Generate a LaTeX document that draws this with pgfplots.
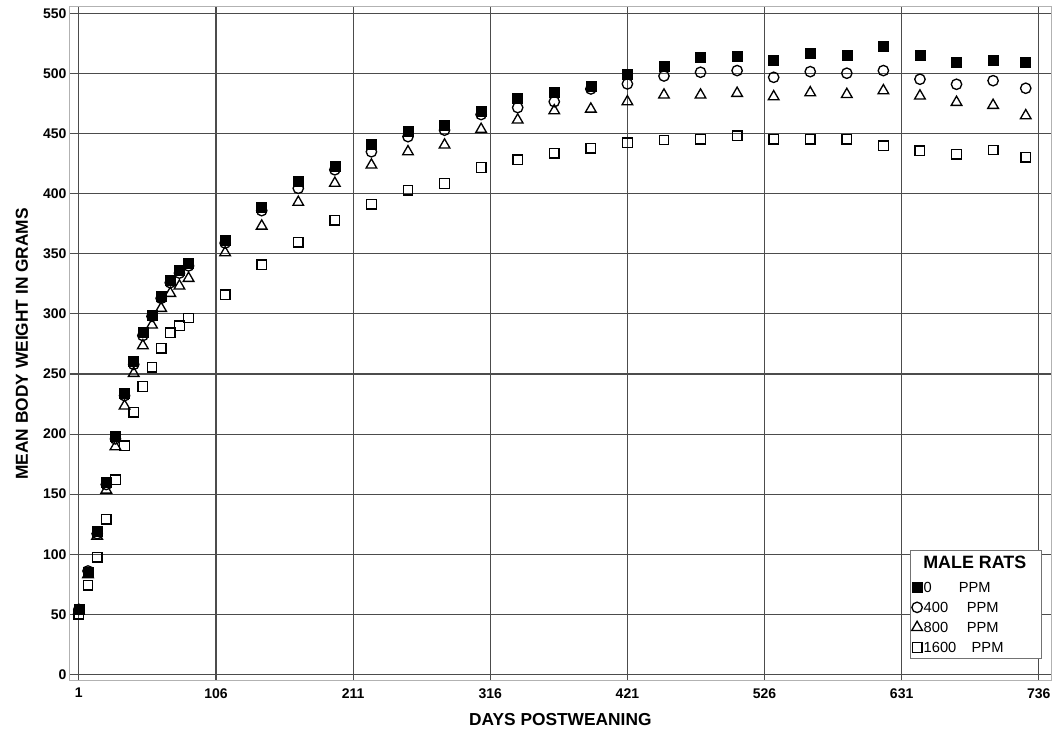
\documentclass[border=0pt]{standalone}
\usepackage{fontspec}
\setmainfont{Liberation Sans}
\usepackage{pgfplots}
\usepackage{pgfplotstable}
\pgfplotsset{compat=1.18}

\pgfplotstableread{
day  p0     p400   p800   p1600
1    54.5   54.0   53.0   50.0
8    84.6   86.0   83.0   74.3
15   118.7  117.0  115.1  97.4
22   159.5  158.0  153.4  129.0
29   197.8  196.0  189.5  161.8
36   233.9  232.0  223.4  190.1
43   260.3  258.0  250.6  218.1
50   284.4  282.0  273.6  239.5
57   299.1  298.0  290.8  255.6
64   314.9  313.0  304.7  271.4
71   328.3  326.0  317.2  284.4
78   336.6  334.0  323.3  290.0
85   342.2  340.0  329.7  296.6
113  361.0  359.0  351.0  316.0
141  388.8  386.0  373.2  340.8
169  410.2  404.6  393.0  359.7
197  422.6  420.0  408.8  378.0
225  441.0  435.0  424.0  391.3
253  451.7  447.6  435.1  402.9
281  457.3  453.0  440.7  408.5
309  468.4  466.0  453.7  421.9
337  479.5  471.8  461.5  428.2
365  484.5  476.7  469.2  433.8
393  489.2  487.3  470.6  437.9
421  499.8  491.5  476.7  442.6
449  505.9  498.1  482.3  444.8
477  513.4  501.2  482.3  445.4
505  514.2  502.6  483.7  448.2
533  510.9  497.0  480.9  445.4
561  517.0  501.7  484.2  445.4
589  515.6  500.4  482.8  445.4
617  522.5  502.6  485.9  440.1
645  515.6  495.4  481.5  435.7
673  509.5  491.2  476.2  432.9
701  511.4  494.2  473.7  436.5
726  509.2  487.9  465.1  430.4
}\ratdata

\begin{document}
\begin{tikzpicture}[x=1pt,y=1pt]
\path[use as bounding box] (-52.0,-41.5) rectangle (738.5,510.5);
\begin{axis}[
  at={(0,0)}, anchor=south west,
  scale only axis, width=736.5pt, height=505.3pt,
  xmin=-6.3, xmax=745.6, ymin=-5.3, ymax=555.6,
  xtick={1,106,211,316,421,526,631,736},
  ytick={0,50,...,550},
  grid=major,
  major grid style={draw=black!70, line width=0.8pt},
  axis line style={draw=black!30, line width=0.8pt},
  major tick length=0pt,
  /pgf/number format/assume math mode=true,
  ticklabel style={font=\fontsize{10.5}{12}\selectfont\bfseries},
  xticklabel style={inner sep=0pt, yshift=-5.5pt},
  yticklabel style={inner sep=0pt, xshift=-2pt},
  xlabel={DAYS POSTWEANING},
  ylabel={MEAN BODY WEIGHT IN GRAMS},
  label style={font=\fontsize{13}{15}\selectfont\bfseries},
  xlabel style={at={(axis description cs:0.5,-0.0583)}, anchor=center},
  ylabel style={at={(axis description cs:-0.0482,0.5)}, anchor=center},
  legend style={at={(0.9905,0.0318)}, anchor=south east, draw=black!55,
    line width=0.8pt, fill=white, inner xsep=1.25pt, inner ysep=1pt,
    nodes={inner sep=1pt, text height=10.5pt, text depth=2.5pt}, row sep=0pt,
    font=\fontsize{11}{13}\selectfont},
  legend cell align=left,
  legend image code/.code={\draw[mark repeat=2,mark phase=2,#1] plot coordinates {(0pt,0pt) (4pt,0pt) (8pt,0pt)};},
]
\addlegendimage{empty legend}
\addlegendentry[text height=12.2pt, text depth=5.3pt]{\hspace*{-9.45pt}\makebox[95.5pt][c]{\fontsize{13.4}{15}\selectfont\bfseries MALE RATS}}
\addlegendimage{only marks, mark=square*, mark size=3.75pt, draw=black, fill=black}
\addlegendentry{0\hspace{20.2pt}PPM}
\addlegendimage{only marks, mark=o, mark size=3.9pt, line width=1pt, draw=black}
\addlegendentry{400\hspace{14pt}PPM}
\addlegendimage{only marks, mark=triangle, mark size=4.6pt, line width=1pt, draw=black}
\addlegendentry{800\hspace{14pt}PPM}
\addlegendimage{only marks, mark=square, mark size=3.6pt, line width=1pt, draw=black}
\addlegendentry{1600\hspace{11.5pt}PPM}

\addplot[forget plot, only marks, mark=square, mark size=3.6pt, line width=1pt, draw=black] table[x=day, y=p1600] {\ratdata};
\addplot[forget plot, only marks, mark=triangle, mark size=4.6pt, line width=1pt, draw=black] table[x=day, y=p800] {\ratdata};
\addplot[forget plot, only marks, mark=o, mark size=3.9pt, line width=1pt, draw=black] table[x=day, y=p400] {\ratdata};
\addplot[forget plot, only marks, mark=square*, mark size=3.75pt, draw=black, fill=black] table[x=day, y=p0] {\ratdata};
\end{axis}
\end{tikzpicture}
\end{document}
